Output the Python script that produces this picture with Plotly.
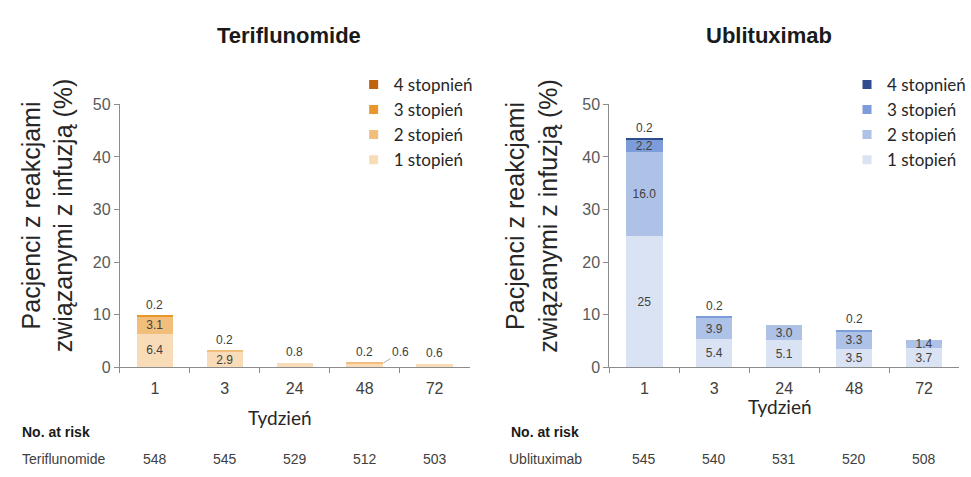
import plotly.graph_objects as go

# ---------------- data ----------------
weeks = ["1", "3", "24", "48", "72"]
grades = ["1 stopień", "2 stopień", "3 stopień", "4 stopnień"]

teri_g1 = [6.4, 2.9, 0.8, 0.6, 0.6]
teri_g2 = [3.1, 0.2, 0.0, 0.2, 0.0]
teri_g3 = [0.2, 0.0, 0.0, 0.0, 0.0]
teri_g4 = [0.0, 0.0, 0.0, 0.0, 0.0]

ubli_g1 = [25.0, 5.4, 5.1, 3.5, 3.7]
ubli_g2 = [16.0, 3.9, 3.0, 3.3, 1.4]
ubli_g3 = [2.2, 0.2, 0.0, 0.2, 0.0]
ubli_g4 = [0.2, 0.0, 0.0, 0.0, 0.0]

teri_risk = [548, 545, 529, 512, 503]
ubli_risk = [545, 540, 531, 520, 508]

orange = ["#F8DCB8", "#F1BE7C", "#E8962E", "#C0620E"]
blue = ["#DAE3F3", "#AEC2E8", "#7C9DD9", "#2E4D8F"]

W, H = 971, 477
def px(x): return x / W
def py(y): return 1 - y / H

fig = go.Figure()

def fmt(v):
    return f"{v:.0f}" if v >= 20 else f"{v:.1f}"

panels = [
    ("x", "y", [teri_g1, teri_g2, teri_g3, teri_g4], orange, teri_risk, "legend"),
    ("x2", "y2", [ubli_g1, ubli_g2, ubli_g3, ubli_g4], blue, ubli_risk, "legend2"),
]

annotations = []
label_font = dict(family="Liberation Sans, Arial", size=12, color="#404040")
risk_font = dict(family="Liberation Sans, Arial", size=14, color="#404040")

for xa, ya, series, cols, risk, leg in panels:
    # legend entries (top: grade 4)
    for gi in [3, 2, 1, 0]:
        fig.add_trace(go.Scatter(x=[None], y=[None], mode="markers", xaxis=xa, yaxis=ya,
                                 marker=dict(symbol="square", size=9, color=cols[gi]),
                                 name=grades[gi], legend=leg, showlegend=True))
    for gi, vals in enumerate(series):
        txt = [fmt(v) if v >= 1 else "" for v in vals]
        fig.add_trace(go.Bar(x=weeks, y=vals, xaxis=xa, yaxis=ya, marker=dict(color=cols[gi], line=dict(width=0)),
                             width=0.52, text=txt, textposition="inside", insidetextanchor="middle",
                             textangle=0, textfont=label_font, constraintext="none",
                             showlegend=False, hoverinfo="skip"))
    # thin-segment labels
    for ci, wk in enumerate(weeks):
        vals = [s[ci] for s in series]
        total = sum(vals)
        thin = [(gi, v) for gi, v in enumerate(vals) if 0 < v < 1]
        if not thin:
            continue
        top_gi, top_v = thin[-1]
        annotations.append(dict(x=ci, y=total, xref=xa, yref=ya, text=fmt(top_v), showarrow=False,
                                xanchor="center", yanchor="middle", yshift=11, font=label_font))
        for gi, v in thin[:-1]:
            annotations.append(dict(x=ci + 0.27, y=total, xref=xa, yref=ya, text=fmt(v),
                                    showarrow=True, arrowhead=0, arrowwidth=0.8, arrowcolor="#999999",
                                    ax=17, ay=-11, font=label_font))
    # number at risk
    for ci, wk in enumerate(weeks):
        annotations.append(dict(x=ci, y=py(468), xref=xa, yref="paper", text=str(risk[ci]),
                                xanchor="center", yanchor="middle", showarrow=False, font=risk_font))

def txt(x, y, t, font, xanchor="center", angle=0):
    return dict(x=px(x), y=py(y), xref="paper", yref="paper", text=t, showarrow=False,
                xanchor=xanchor, yanchor="middle", textangle=angle, font=font)

title_font = dict(family="Liberation Sans, Arial", size=22, color="#1a1a1a")
ytitle_font = dict(family="Liberation Sans, Arial", size=25, color="#262626")
calib = dict(family="Lato, Noto Sans", size=19, color="#262626")
ylab = "Pacjenci z reakcjami<br>związanymi z infuzją (%)"

annotations += [
    txt(289, 28, "<b>Teriflunomide</b>", title_font),
    txt(770, 28, "<b>Ublituximab</b>", title_font),
    txt(47, 215, ylab, ytitle_font, angle=-90),
    txt(532, 215, ylab, ytitle_font, angle=-90),
    txt(280, 425, "Tydzień", calib),
    txt(781, 413, "Tydzień", calib),
    txt(20, 440, "<b>No. at risk</b>", dict(family="Liberation Sans, Arial", size=14, color="#1a1a1a"), xanchor="left"),
    txt(510, 440, "<b>No. at risk</b>", dict(family="Liberation Sans, Arial", size=14, color="#1a1a1a"), xanchor="left"),
    txt(20, 468, "Teriflunomide", risk_font, xanchor="left"),
    txt(508, 468, "Ublituximab", risk_font, xanchor="left"),
]

xcommon = dict(type="category", categoryorder="array", categoryarray=weeks, range=[-0.5, 4.5],
               showline=True, linecolor="#8c8c8c", linewidth=1.2, ticks="outside", tickson="boundaries",
               ticklen=5, tickcolor="#8c8c8c", showgrid=False, zeroline=False, ticklabelstandoff=6,
               tickfont=dict(family="Liberation Sans, Arial", size=16, color="#404040"))
ycommon = dict(range=[0, 50], tickvals=[0, 10, 20, 30, 40, 50], showline=True, linecolor="#8c8c8c",
               linewidth=1.2, ticks="outside", ticklen=5, tickcolor="#8c8c8c", showgrid=False,
               zeroline=False, tickfont=dict(family="Liberation Sans, Arial", size=16, color="#595959"))

legfont = dict(family="Lato, Noto Sans", size=17, color="#262626")
fig.update_layout(
    width=W, height=H, margin=dict(l=0, r=0, t=0, b=0),
    paper_bgcolor="white", plot_bgcolor="white", barmode="stack", bargap=0.48,
    xaxis=dict(domain=[px(120), px(470)], anchor="y", **xcommon),
    yaxis=dict(domain=[py(372.5), py(100)], anchor="x", **ycommon),
    xaxis2=dict(domain=[px(610), px(960)], anchor="y2", **xcommon),
    yaxis2=dict(domain=[py(372.5), py(100)], anchor="x2", **ycommon),
    legend=dict(x=px(354), y=py(61), xanchor="left", yanchor="top", font=legfont, bgcolor="rgba(0,0,0,0)",
                tracegroupgap=0, traceorder="normal"),
    legend2=dict(x=px(848), y=py(61), xanchor="left", yanchor="top", font=legfont, bgcolor="rgba(0,0,0,0)",
                 tracegroupgap=0, traceorder="normal"),
    annotations=annotations,
    showlegend=True,
)

fig.write_html("out.html")
